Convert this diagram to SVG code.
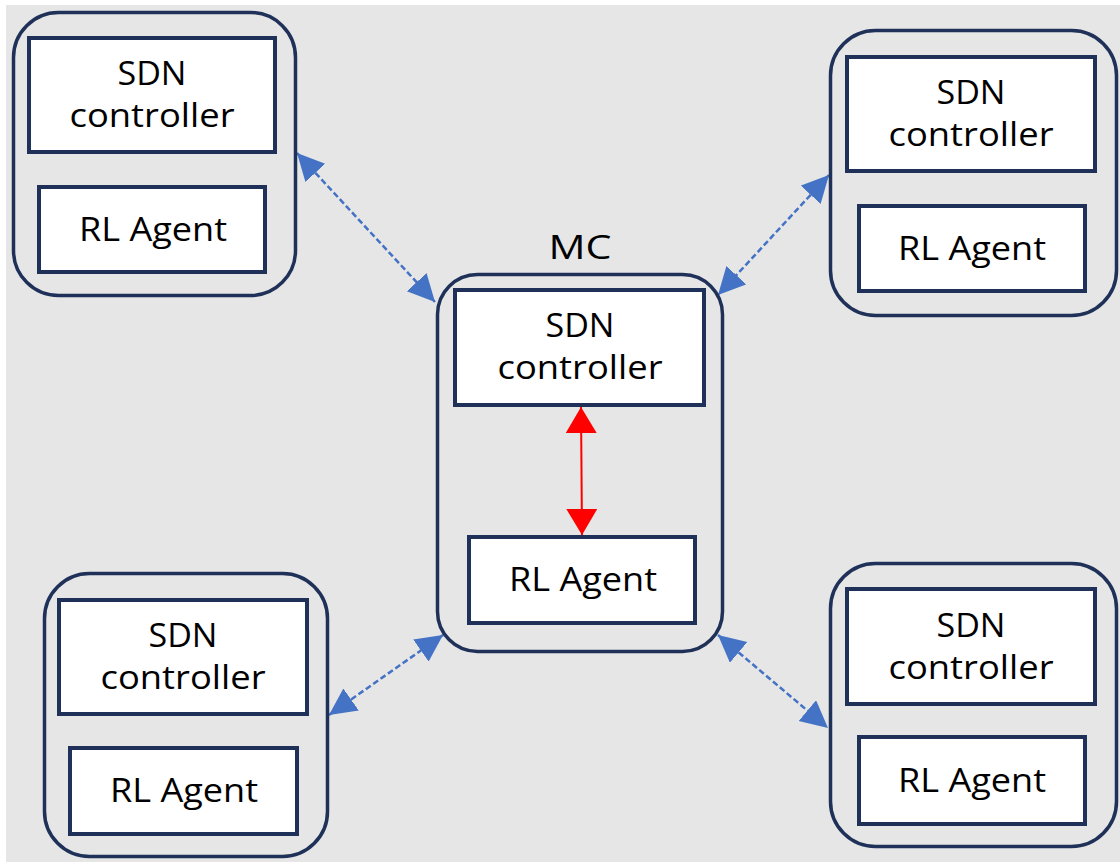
<svg xmlns="http://www.w3.org/2000/svg" width="1120" height="862" viewBox="0 0 1120 862">
  <style>
    .site { fill: none; stroke: #1f3158; stroke-width: 3.5; }
    .box { fill: #ffffff; stroke: #1f3158; stroke-width: 4; }
    .lbl { font-family: "Open Sans", "Noto Sans", "DejaVu Sans", sans-serif; font-size: 32px; fill: #000000; text-anchor: middle; }
    .link { fill: none; stroke: #4472c4; stroke-width: 2.5; stroke-dasharray: 6 3; marker-start: url(#headBlue); marker-end: url(#headBlue); }
    .local { fill: none; stroke: #ff0000; stroke-width: 2; marker-start: url(#headRed); marker-end: url(#headRed); }
  </style>
  <defs>
    <marker id="headBlue" markerUnits="userSpaceOnUse" markerWidth="28" markerHeight="28" refX="27" refY="13.5" orient="auto-start-reverse">
      <path d="M0,0 L27,13.5 L0,27 z" fill="#4472c4"/>
    </marker>
    <marker id="headRed" markerUnits="userSpaceOnUse" markerWidth="32" markerHeight="32" refX="26" refY="15.5" orient="auto-start-reverse">
      <path d="M0,0 L26,15.5 L0,31 z" fill="#ff0000"/>
    </marker>
  </defs>

  <!-- canvas -->
  <rect x="0" y="0" width="1120" height="862" fill="#ffffff"/>
  <rect x="6" y="5" width="1114" height="857" fill="#e6e6e6"/>

  <!-- links between the master controller and the domain controllers -->
  <g id="connectors">
    <line class="link" x1="297" y1="153" x2="435" y2="302"/>
    <line class="link" x1="829" y1="175" x2="718" y2="295"/>
    <line class="link" x1="329" y1="715" x2="443" y2="635"/>
    <line class="link" x1="718" y1="635" x2="828" y2="728"/>
    <line class="local" x1="581" y1="407" x2="582" y2="535"/>
  </g>

  <!-- top-left domain -->
  <g id="domain-top-left">
    <rect class="site" x="13.5" y="12.5" width="282" height="283" rx="45"/>
    <rect class="box" x="29" y="38" width="246" height="114"/>
    <text class="lbl" x="152" y="85" textLength="69" lengthAdjust="spacingAndGlyphs">SDN</text>
    <text class="lbl" x="152" y="127" textLength="165" lengthAdjust="spacingAndGlyphs">controller</text>
    <rect class="box" x="39" y="187" width="226" height="85"/>
    <text class="lbl" x="153" y="241" textLength="148" lengthAdjust="spacingAndGlyphs">RL Agent</text>
  </g>

  <!-- top-right domain -->
  <g id="domain-top-right">
    <rect class="site" x="830.5" y="30.5" width="286" height="285" rx="45"/>
    <rect class="box" x="847" y="57" width="248" height="114"/>
    <text class="lbl" x="971" y="104" textLength="69" lengthAdjust="spacingAndGlyphs">SDN</text>
    <text class="lbl" x="971" y="146" textLength="165" lengthAdjust="spacingAndGlyphs">controller</text>
    <rect class="box" x="859" y="206" width="226" height="85"/>
    <text class="lbl" x="972" y="260" textLength="148" lengthAdjust="spacingAndGlyphs">RL Agent</text>
  </g>

  <!-- master controller -->
  <g id="master-controller">
    <text class="lbl" x="580" y="259" textLength="63" lengthAdjust="spacingAndGlyphs">MC</text>
    <rect class="site" x="437.5" y="274.5" width="285" height="377" rx="40"/>
    <rect class="box" x="455" y="290" width="249" height="115"/>
    <text class="lbl" x="580" y="337" textLength="69" lengthAdjust="spacingAndGlyphs">SDN</text>
    <text class="lbl" x="580" y="379" textLength="165" lengthAdjust="spacingAndGlyphs">controller</text>
    <rect class="box" x="469" y="537" width="226" height="86"/>
    <text class="lbl" x="583" y="591" textLength="148" lengthAdjust="spacingAndGlyphs">RL Agent</text>
  </g>

  <!-- bottom-left domain -->
  <g id="domain-bottom-left">
    <rect class="site" x="44.5" y="573.5" width="283" height="283" rx="45"/>
    <rect class="box" x="59" y="600" width="248" height="114"/>
    <text class="lbl" x="183" y="647" textLength="69" lengthAdjust="spacingAndGlyphs">SDN</text>
    <text class="lbl" x="183" y="689" textLength="165" lengthAdjust="spacingAndGlyphs">controller</text>
    <rect class="box" x="70" y="748" width="227" height="86"/>
    <text class="lbl" x="184" y="802" textLength="148" lengthAdjust="spacingAndGlyphs">RL Agent</text>
  </g>

  <!-- bottom-right domain -->
  <g id="domain-bottom-right">
    <rect class="site" x="830.5" y="563.5" width="286" height="283" rx="45"/>
    <rect class="box" x="847" y="589" width="248" height="115"/>
    <text class="lbl" x="971" y="637" textLength="69" lengthAdjust="spacingAndGlyphs">SDN</text>
    <text class="lbl" x="971" y="679" textLength="165" lengthAdjust="spacingAndGlyphs">controller</text>
    <rect class="box" x="859" y="737" width="226" height="87"/>
    <text class="lbl" x="972" y="792" textLength="148" lengthAdjust="spacingAndGlyphs">RL Agent</text>
  </g>
</svg>
